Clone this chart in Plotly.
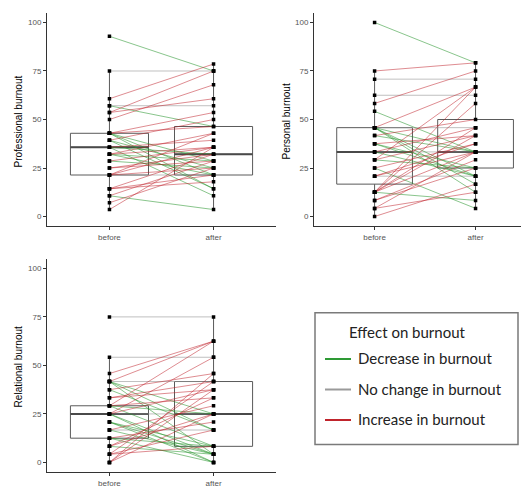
import plotly.graph_objects as go

W, H = 521, 488

# ---- paired scores (before, after) per burnout dimension ----
prof_before = [92.9, 75.0, 60.7, 53.6, 50.0, 57.1, 53.6, 57.1, 42.9, 42.9,
               42.9, 42.9, 39.3, 39.3, 35.7, 35.7, 35.7, 32.1, 32.1, 32.1,
               28.6, 28.6, 25.0, 25.0, 21.4, 21.4, 21.4, 21.4, 14.3, 14.3,
               10.7, 10.7, 7.1, 3.6, 14.3, 39.3, 32.1, 42.9]
prof_after = [75.0, 75.0, 78.6, 75.0, 67.9, 57.1, 60.7, 46.4, 53.6, 46.4,
              21.4, 28.6, 14.3, 25.0, 39.3, 32.1, 10.7, 35.7, 28.6, 42.9,
              35.7, 25.0, 32.1, 28.6, 42.9, 35.7, 25.0, 21.4, 21.4, 32.1,
              3.6, 28.6, 25.0, 35.7, 17.9, 50.0, 21.4, 14.3]

pers_before = [100.0, 75.0, 70.8, 58.3, 62.5, 54.2, 45.8, 45.8, 45.8, 45.8,
               41.7, 37.5, 37.5, 33.3, 33.3, 29.2, 29.2, 25.0, 20.8, 20.8,
               12.5, 12.5, 12.5, 12.5, 12.5, 12.5, 8.3, 4.2, 0.0, 41.7,
               33.3, 20.8, 45.8, 29.2, 8.3, 4.2, 25.0, 45.8, 37.5]
pers_after = [79.2, 79.2, 70.8, 75.0, 62.5, 33.3, 66.7, 33.3, 20.8, 12.5,
              33.3, 41.7, 20.8, 33.3, 45.8, 25.0, 66.7, 4.2, 37.5, 20.8,
              66.7, 58.3, 45.8, 8.3, 33.3, 41.7, 29.2, 33.3, 16.7, 50.0,
              20.8, 33.3, 16.7, 41.7, 25.0, 12.5, 37.5, 45.8, 25.0]

rel_before = [75.0, 54.2, 45.8, 41.7, 29.2, 25.0, 37.5, 41.7, 41.7, 41.7,
              33.3, 29.2, 29.2, 25.0, 25.0, 25.0, 20.8, 20.8, 16.7, 16.7,
              12.5, 12.5, 8.3, 8.3, 4.2, 4.2, 0.0, 0.0, 33.3, 29.2,
              20.8, 37.5, 8.3, 12.5, 4.2, 16.7, 0.0, 25.0, 41.7]
rel_after = [75.0, 54.2, 62.5, 62.5, 62.5, 54.2, 45.8, 41.7, 16.7, 4.2,
             37.5, 25.0, 8.3, 25.0, 4.2, 0.0, 8.3, 0.0, 4.2, 29.2,
             20.8, 8.3, 33.3, 4.2, 41.7, 16.7, 37.5, 25.0, 41.7, 33.3,
             4.2, 16.7, 25.0, 0.0, 8.3, 16.7, 45.8, 37.5, 25.0]

# box summaries: [before, after]
prof_box = dict(q1=[21.4, 21.4], median=[35.7, 32.1], q3=[42.9, 46.4],
                lowerfence=[3.6, 3.6], upperfence=[75.0, 78.6])
pers_box = dict(q1=[16.7, 25.0], median=[33.3, 33.3], q3=[45.8, 50.0],
                lowerfence=[0.0, 4.2], upperfence=[75.0, 79.2])
rel_box = dict(q1=[12.5, 8.3], median=[25.0, 25.0], q3=[29.2, 41.7],
               lowerfence=[0.0, 0.0], upperfence=[54.2, 75.0])

time_labels = ["before", "after"]
y_ticks = [0, 25, 50, 75, 100]

legend_title = "Effect on burnout"
legend_labels = ["Decrease in burnout", "No change in burnout", "Increase in burnout"]

COL_DEC = "rgba(40,150,45,0.55)"
COL_SAME = "rgba(150,150,150,0.6)"
COL_INC = "rgba(190,25,35,0.5)"
LEG_COLS = ["#2e9a35", "#9a9a9a", "#c0242c"]

BOX_W = 0.75
AX_FONT = "Liberation Sans, Arial"


def px_x(p):
    return p / W


def px_y(p):
    return 1 - p / H


panels = [
    dict(name="Professional burnout", before=prof_before, after=prof_after, box=prof_box,
         xdom=(47, 276), ydom=(13, 230), xr=[0.4, 2.6], tx=18),
    dict(name="Personal burnout", before=pers_before, after=pers_after, box=pers_box,
         xdom=(314, 521), ydom=(13, 230), xr=[0.4, 2.45], tx=286),
    dict(name="Relational burnout", before=rel_before, after=rel_after, box=rel_box,
         xdom=(47, 276), ydom=(263, 480), xr=[0.4, 2.6], tx=18),
]

fig = go.Figure()
annotations = []
shapes = []

for i, p in enumerate(panels):
    sfx = "" if i == 0 else str(i + 1)
    xa, ya = "x" + sfx, "y" + sfx

    # boxes
    b = p["box"]
    fig.add_trace(go.Box(
        x=[1, 2], q1=b["q1"], median=b["median"], q3=b["q3"],
        lowerfence=b["lowerfence"], upperfence=b["upperfence"],
        width=BOX_W, whiskerwidth=0, fillcolor="rgba(0,0,0,0)",
        line=dict(color="#5a5a5a", width=1), boxpoints=False,
        showlegend=False, hoverinfo="skip", xaxis=xa, yaxis=ya))
    # thicker median bars
    for k, m in enumerate(b["median"]):
        fig.add_trace(go.Scatter(
            x=[k + 1 - BOX_W / 2, k + 1 + BOX_W / 2], y=[m, m], mode="lines",
            line=dict(color="#4a4a4a", width=2), showlegend=False,
            hoverinfo="skip", xaxis=xa, yaxis=ya))

    # paired lines grouped by direction of change
    groups = {COL_SAME: ([], []), COL_DEC: ([], []), COL_INC: ([], [])}
    for bv, av in zip(p["before"], p["after"]):
        col = COL_SAME if av == bv else (COL_DEC if av < bv else COL_INC)
        gx, gy = groups[col]
        gx += [1, 2, None]
        gy += [bv, av, None]
    for col, (gx, gy) in groups.items():
        fig.add_trace(go.Scatter(
            x=gx, y=gy, mode="lines", line=dict(color=col, width=1),
            showlegend=False, hoverinfo="skip", xaxis=xa, yaxis=ya))

    # points
    n = len(p["before"])
    fig.add_trace(go.Scatter(
        x=[1] * n + [2] * n, y=p["before"] + p["after"], mode="markers",
        marker=dict(color="black", size=3.5, symbol="square"),
        showlegend=False, hoverinfo="skip", xaxis=xa, yaxis=ya))

    x0, x1 = p["xdom"]
    y0, y1 = p["ydom"]
    axis_common = dict(showgrid=False, zeroline=False, showline=True,
                       linecolor="#333333", linewidth=1, ticks="outside",
                       ticklen=3, tickcolor="#333333",
                       tickfont=dict(family=AX_FONT, size=8, color="#555555"))
    fig.update_layout(**{
        "xaxis" + sfx: dict(domain=[px_x(x0), px_x(x1)], range=p["xr"],
                            tickvals=[1, 2], ticktext=time_labels,
                            anchor=ya, **axis_common),
        "yaxis" + sfx: dict(domain=[px_y(y1), px_y(y0)], range=[-5, 105],
                            tickvals=y_ticks, anchor=xa, **axis_common),
    })
    annotations.append(dict(
        x=px_x(p["tx"]), y=px_y((y0 + y1) / 2 + 2), xref="paper", yref="paper",
        xanchor="center", yanchor="middle",
        text=p["name"], textangle=-90, showarrow=False,
        font=dict(family=AX_FONT, size=10, color="black")))

# legend panel
shapes.append(dict(type="rect", xref="paper", yref="paper",
                   x0=px_x(315), x1=px_x(518), y0=px_y(452), y1=px_y(318),
                   line=dict(color="#7a7a7a", width=1.5), fillcolor="white"))
annotations.append(dict(x=px_x(347), y=px_y(338), xref="paper", yref="paper",
                        xanchor="left", yanchor="middle", text=legend_title,
                        showarrow=False,
                        font=dict(family="Lato", size=15, color="#222222")))
for k, (lab, col) in enumerate(zip(legend_labels, LEG_COLS)):
    yy = [365, 396, 427][k]
    shapes.append(dict(type="line", xref="paper", yref="paper",
                       x0=px_x(325), x1=px_x(351), y0=px_y(yy), y1=px_y(yy),
                       line=dict(color=col, width=2)))
    annotations.append(dict(x=px_x(356), y=px_y(yy - 1), xref="paper", yref="paper",
                            xanchor="left", yanchor="middle", text=lab,
                            showarrow=False,
                            font=dict(family="Lato", size=15, color="#222222")))

fig.update_layout(width=W, height=H, margin=dict(l=0, r=0, t=0, b=0),
                  paper_bgcolor="white", plot_bgcolor="white",
                  annotations=annotations, shapes=shapes, showlegend=False)

fig.write_html("out.html")
